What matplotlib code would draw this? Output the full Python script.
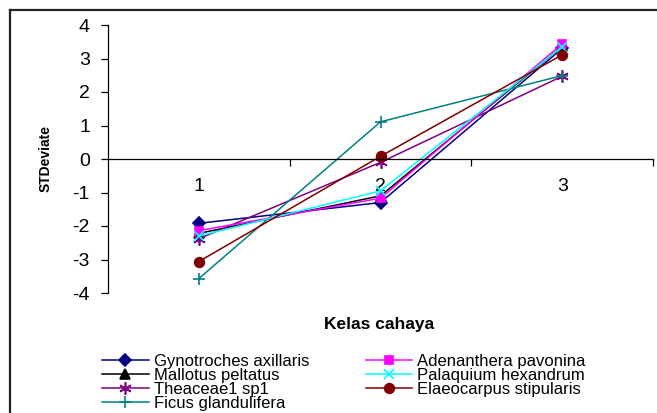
import matplotlib.pyplot as plt
from matplotlib.lines import Line2D

plt.rcParams['font.family'] = ['Liberation Sans', 'DejaVu Sans']

# light class (x) and standardised deviate per species
kelas = [1, 2, 3]
gynotroches = [-1.92, -1.30, 3.30]
adenanthera = [-2.14, -1.17, 3.44]
mallotus = [-2.22, -1.10, 3.36]
palaquium = [-2.30, -0.95, 3.35]
theaceae = [-2.38, -0.10, 2.47]
elaeocarpus = [-3.06, 0.08, 3.11]
ficus = [-3.57, 1.11, 2.49]

W, H = 657, 413
fig = plt.figure(figsize=(W / 100, H / 100), dpi=100)
ax = fig.add_axes([108 / W, 1 - 293 / H, (653 - 108) / W, (293 - 25) / H])

lw = 1.1
series = [
    (gynotroches, 'Gynotroches axillaris', '#000080', 'D', 6),
    (mallotus, 'Mallotus peltatus', '#000000', '^', 7),
    (theaceae, 'Theaceae1 sp1', '#800080', (6, 2, 0), 9),
    (ficus, 'Ficus glandulifera', '#008080', '+', 9),
    (adenanthera, 'Adenanthera pavonina', '#FF00FF', 's', 6),
    (palaquium, 'Palaquium hexandrum', '#00FFFF', 'x', 7),
    (elaeocarpus, 'Elaeocarpus stipularis', '#800000', 'o', 7),
]
for vals, name, col, mk, ms in series:
    ax.plot(kelas, vals, color=col, lw=lw, marker=mk, ms=ms,
            mec=col, mfc=col, mew=1.2, label=name)

ax.set_xlim(0.5, 3.5)
ax.set_ylim(-4, 4)
ax.set_yticks(range(-4, 5))
ax.set_yticklabels([str(v) for v in range(-4, 5)])

ax.spines['top'].set_visible(False)
ax.spines['right'].set_visible(False)
ax.spines['bottom'].set_position(('data', 0))
ax.spines['bottom'].set_linewidth(0.9)
ax.spines['left'].set_linewidth(0.9)

ax.set_xticks(kelas)
ax.set_xticklabels(['1', '2', '3'])
ax.set_xticks([1.5, 2.5, 3.5], minor=True)
ax.tick_params(axis='x', which='major', length=0, pad=14, labelsize=14)
ax.tick_params(axis='x', which='minor', length=5, direction='out', width=0.9)
ax.tick_params(axis='y', length=5, width=0.9, pad=8, labelsize=14)

ax.set_ylabel('STDeviate', fontsize=10, fontweight='bold')
ax.yaxis.set_label_coords(-0.101, 0.5)

fig.text(379 / W, 1 - 325 / H, 'Kelas cahaya', fontsize=12.5, fontweight='bold',
         ha='center', va='center')

leg = fig.legend(loc='upper left', bbox_to_anchor=(102 / W, 1 - 354 / H),
                 ncol=2, frameon=False, fontsize=12, handlelength=2.8,
                 handletextpad=0.3, labelspacing=-0.06, columnspacing=3.4,
                 borderpad=0, borderaxespad=0)

# outer chart border (top and left edges fall inside the image)
fig.add_artist(Line2D([9.5 / W, 9.5 / W], [0, 1 - 9.5 / H], color='#222222',
                      lw=1.6, transform=fig.transFigure))
fig.add_artist(Line2D([9.5 / W, 1], [1 - 9.5 / H, 1 - 9.5 / H], color='#222222',
                      lw=1.6, transform=fig.transFigure))

fig.savefig('out.png', dpi=100)
